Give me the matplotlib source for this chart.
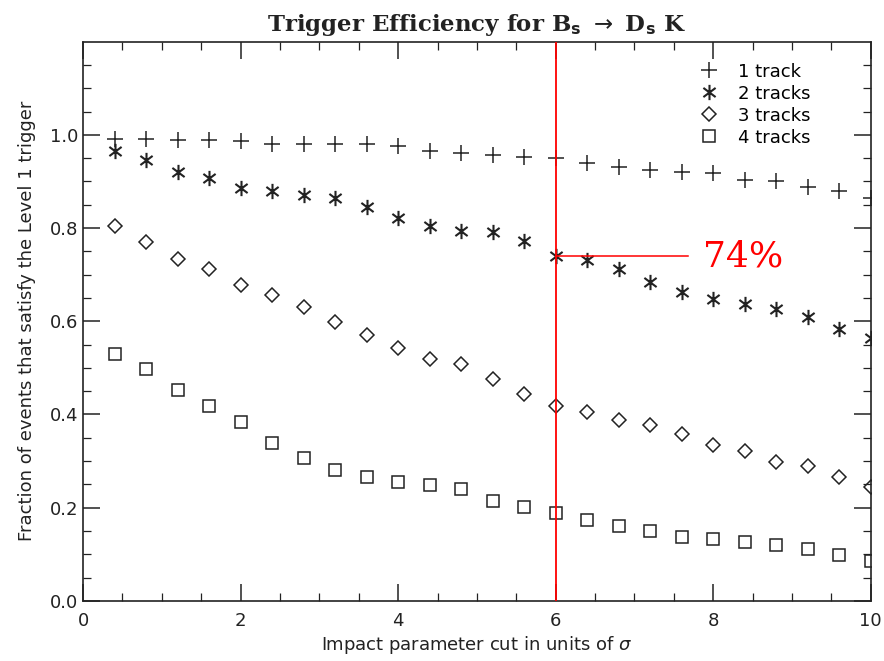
import matplotlib.pyplot as plt
from matplotlib.path import Path
import numpy as np

# impact parameter cut (units of sigma)
cut = [0.4, 0.8, 1.2, 1.6, 2.0, 2.4, 2.8, 3.2, 3.6, 4.0, 4.4, 4.8, 5.2,
       5.6, 6.0, 6.4, 6.8, 7.2, 7.6, 8.0, 8.4, 8.8, 9.2, 9.6, 10.0]

# fraction of events passing the Level 1 trigger
eff_1trk = [0.991, 0.991, 0.990, 0.990, 0.986, 0.981, 0.981, 0.981, 0.981, 0.976, 0.966, 0.961, 0.956,
            0.952, 0.950, 0.940, 0.931, 0.925, 0.920, 0.918, 0.903, 0.900, 0.888, 0.880, 0.865]
eff_2trk = [0.966, 0.945, 0.920, 0.907, 0.886, 0.880, 0.871, 0.864, 0.846, 0.822, 0.805, 0.794, 0.792,
            0.773, 0.740, 0.731, 0.712, 0.685, 0.663, 0.647, 0.638, 0.627, 0.609, 0.583, 0.563]
eff_3trk = [0.805, 0.769, 0.733, 0.713, 0.678, 0.657, 0.630, 0.599, 0.571, 0.543, 0.520, 0.508, 0.477,
            0.443, 0.418, 0.405, 0.388, 0.378, 0.359, 0.335, 0.321, 0.298, 0.289, 0.266, 0.245]
eff_4trk = [0.529, 0.497, 0.452, 0.418, 0.383, 0.339, 0.307, 0.280, 0.266, 0.254, 0.249, 0.239, 0.215,
            0.201, 0.189, 0.174, 0.160, 0.149, 0.138, 0.133, 0.126, 0.119, 0.112, 0.099, 0.085]

cut_sel = 6.0
eff_sel = 0.74

# IDL style asterisk: vertical bar plus an X
star = Path([(0, 1), (0, -1), (-0.8, 0.6), (0.8, -0.6), (-0.8, -0.6), (0.8, 0.6)],
            [Path.MOVETO, Path.LINETO, Path.MOVETO, Path.LINETO, Path.MOVETO, Path.LINETO])

fig = plt.figure(figsize=(8.84, 6.61), dpi=100)
ax = fig.add_axes([0.094, 0.091, 0.891, 0.846])

ax.plot(cut, eff_1trk, ls='none', marker='+', ms=11, mew=1.1, color='#222', label='1 track')
ax.plot(cut, eff_2trk, ls='none', marker=star, ms=11, mew=1.5, color='#222', label='2 tracks')
ax.plot(cut, eff_3trk, ls='none', marker='D', ms=7.5, mew=1.1, mfc='none', color='#222', label='3 tracks')
ax.plot(cut, eff_4trk, ls='none', marker='s', ms=9, mew=1.1, mfc='none', color='#222', label='4 tracks')

# selected cut
ax.axvline(cut_sel + 0.01, color='red', lw=1.3, zorder=3)
ax.plot([cut_sel, 7.68], [eff_sel, eff_sel], color='red', lw=1.1)
ax.text(7.87, eff_sel, '%d%%' % round(eff_sel * 100), color='red', fontsize=26,
        family='DejaVu Serif', va='center', ha='left')

ax.set_xlim(0, 10)
ax.set_ylim(0, 1.2)
ax.set_xticks(np.arange(0, 11, 2))
ax.set_xticks(np.arange(0, 10.01, 0.5), minor=True)
ax.set_yticks(np.arange(0, 1.01, 0.2))
ax.set_yticklabels(['0.0', '0.2', '0.4', '0.6', '0.8', '1.0'])
ax.set_yticks(np.arange(0, 1.2, 0.05), minor=True)
ax.tick_params(which='both', direction='in', top=True, right=True, labelsize=13, colors='#222')
ax.tick_params(which='major', length=12, width=1.1)
ax.tick_params(which='minor', length=6, width=0.9)
ax.tick_params(axis='x', pad=8)
for s in ax.spines.values():
    s.set_linewidth(1.2)
    s.set_color('#222')

ax.set_xlabel(r'Impact parameter cut in units of $\sigma$', fontsize=13, color='#222', labelpad=3)
ax.set_ylabel('Fraction of events that satisfy the Level 1 trigger', fontsize=13, color='#222', labelpad=10)
ax.set_title(r'Trigger Efficiency for B$_\mathbf{s}$ $\rightarrow$ D$_\mathbf{s}$ K',
             fontsize=16.5, family='DejaVu Serif', fontweight='bold', color='#222', pad=8)

ax.legend(loc='upper right', frameon=False, fontsize=13, handletextpad=0.6,
          labelspacing=0.22, borderaxespad=0.3, bbox_to_anchor=(0.94, 0.985))

fig.savefig('out.png', dpi=100)
